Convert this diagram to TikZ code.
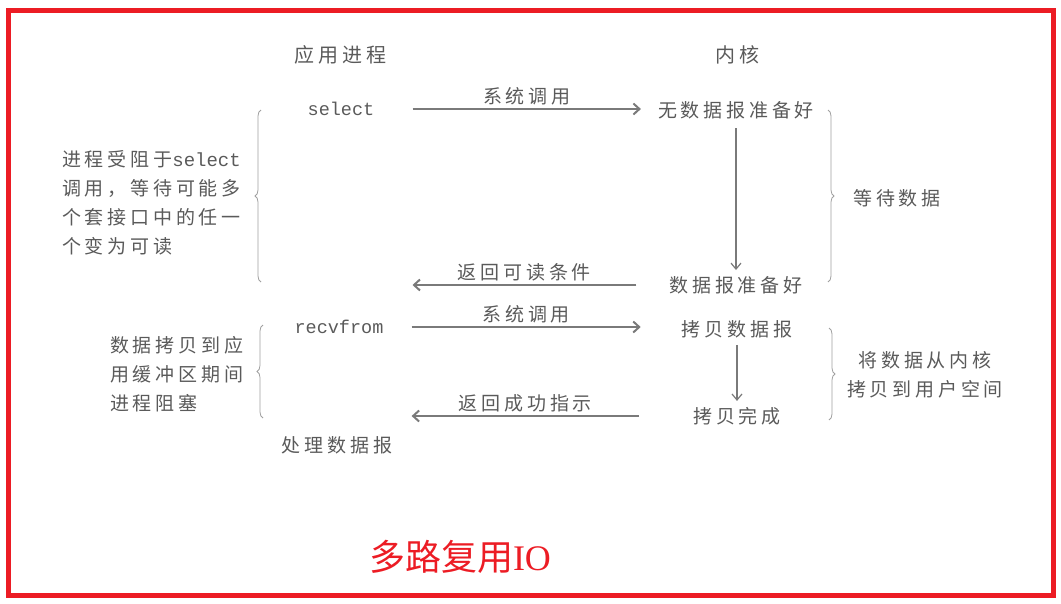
\documentclass[tikz,border=0pt]{standalone}
\usepackage{fontspec}
\newfontfamily\cjk[LetterSpace=20]{Noto Sans CJK SC}
\newfontfamily\cjktitle{Noto Sans CJK SC}
\newfontfamily\mono{Liberation Mono}
\setmainfont{Liberation Serif}
\usetikzlibrary{positioning, arrows.meta, decorations.pathreplacing}
\definecolor{inkgray}{HTML}{5A5A5A}
\definecolor{linegray}{HTML}{7A7A7A}
\definecolor{bracegray}{HTML}{A0A0A0}
\definecolor{framered}{HTML}{EC1C24}

\begin{document}
\begin{tikzpicture}[x=1pt, y=-1pt,
    t/.style={text=inkgray, inner sep=0pt, font=\cjk\fontsize{19}{29}\selectfont},
    code/.style={text=inkgray, inner sep=0pt, font=\mono\fontsize{18.5}{22}\selectfont},
    harr/.style={-{Straight Barb[length=6pt,width=11pt]}, line width=2pt, color=linegray},
    varr/.style={-{Straight Barb[length=6pt,width=10pt]}, line width=1.2pt, color=linegray},
    brc/.style={decorate, decoration={brace, amplitude=6pt}, color=bracegray, line width=0.8pt}]
  \useasboundingbox (0,0) rectangle (1061,603);
  \draw[framered, line width=5pt] (8.5,10.5) rectangle (1053.5,595.5);
  % column heads
  \node[t, font=\cjk\fontsize{20}{24}\selectfont] (app) at (340,55) {应用进程};
  \node[t, font=\cjk\fontsize{20}{24}\selectfont] (kern) at (737,55) {内核};
  % select phase
  \node[code] (sel) at (341,109) {select};
  \node[t] (nd) at (736,110) {无数据报准备好};
  \node[t] (ready) at (736,285) {数据报准备好};
  \draw[harr] ([xshift=38pt]sel.east) -- node[t, above=3pt] {系统调用} ([xshift=-17pt]nd.west |- sel.east);
  \draw[varr, shorten <=9pt, shorten >=6pt] (nd) -- (ready);
  \draw[harr] ([xshift=-33pt]ready.west) -- node[t, above=3pt] {返回可读条件} ([xshift=38pt]sel.east |- ready.west);
  % recvfrom phase
  \node[code] (recv) at (339,327) {recvfrom};
  \node[t] (copy) at (737,329) {拷贝数据报};
  \node[t] (done) at (737,416) {拷贝完成};
  \node[t] (proc) at (337,445) {处理数据报};
  \draw[harr] ([xshift=28pt]recv.east) -- node[t, above=3pt] {系统调用} ([xshift=-41pt]copy.west |- recv.east);
  \draw[varr, shorten <=7pt, shorten >=6pt] (copy) -- (done);
  \draw[harr] ([xshift=-54pt]done.west) -- node[t, above=3pt] {返回成功指示} ([xshift=28pt]recv.east |- done.west);
  % braces and notes
  \draw[brc] (261,282) -- (261,110);
  \draw[brc] (828,110) -- (828,282);
  \draw[brc] (263,418) -- (263,325);
  \draw[brc] (829,328) -- (829,420);
  \node[t, anchor=west, align=left] (blk1) at (62,203) {进程受阻于{\mono select}\\调用，等待可能多\\个套接口中的任一\\个变为可读};
  \node[t, anchor=west, align=left] (blk2) at (110,374) {数据拷贝到应\\用缓冲区期间\\进程阻塞};
  \node[t] (wait) at (897,198) {等待数据};
  \node[t, align=center] (cp) at (925,375) {将数据从内核\\拷贝到用户空间};
  % caption
  \node[text=framered, font=\cjktitle\fontsize{36}{42}\selectfont] (title) at (460,557) {多路复用{\rmfamily IO}};
\end{tikzpicture}
\end{document}
